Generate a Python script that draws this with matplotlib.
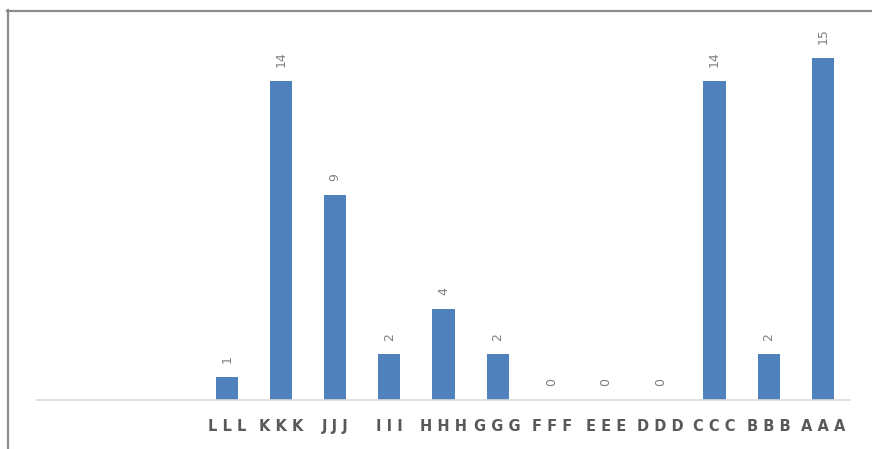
import matplotlib
matplotlib.use("Agg")
import matplotlib.pyplot as plt
from matplotlib.lines import Line2D

categories = ["LLL", "KKK", "JJJ", "III", "HHH", "GGG", "FFF", "EEE", "DDD", "CCC", "BBB", "AAA"]
values = [1, 14, 9, 2, 4, 2, 0, 0, 0, 14, 2, 15]
leading_blank_slots = 3

W, H = 872, 449
fig = plt.figure(figsize=(W / 100, H / 100), dpi=100)

# axes placed in pixel terms: x from 37 to 850, baseline at y=400
ymax = 16
unit = (400 - 58) / 15.0
top_px = 400 - ymax * unit
ax = fig.add_axes([37 / W, (H - 400) / H, (850 - 37) / W, (400 - top_px) / H])

n_slots = leading_blank_slots + len(categories)
xs = [leading_blank_slots + i for i in range(len(categories))]
bars = ax.bar(xs, values, width=0.41, color="#4f81bd", zorder=2)

ax.set_xlim(-0.5, n_slots - 0.5)
ax.set_ylim(0, ymax)

for x, v in zip(xs, values):
    ax.annotate(str(v), xy=(x, v), xytext=(0, 10), textcoords="offset points",
                rotation=90, ha="center", va="bottom", fontsize=9,
                color="#7f7f7f", annotation_clip=False)

ax.set_xticks(xs)
ax.set_xticklabels([" ".join(c) for c in categories], fontsize=10.5,
                   fontweight="bold", color="#595959")
ax.tick_params(axis="x", length=0, pad=14)
ax.set_yticks([])

for s in ["top", "right", "left"]:
    ax.spines[s].set_visible(False)
ax.spines["bottom"].set_color("#d9d9d9")
ax.spines["bottom"].set_linewidth(1.2)

# outer frame on the top and left edges
fig.add_artist(Line2D([7.5 / W, 7.5 / W], [0, 1 - 10 / H], transform=fig.transFigure,
                      color="#8c8c8c", lw=1.6))
fig.add_artist(Line2D([7 / W, 1], [1 - 10.5 / H, 1 - 10.5 / H], transform=fig.transFigure,
                      color="#8c8c8c", lw=1.6))

fig.savefig("out.png", dpi=100)
